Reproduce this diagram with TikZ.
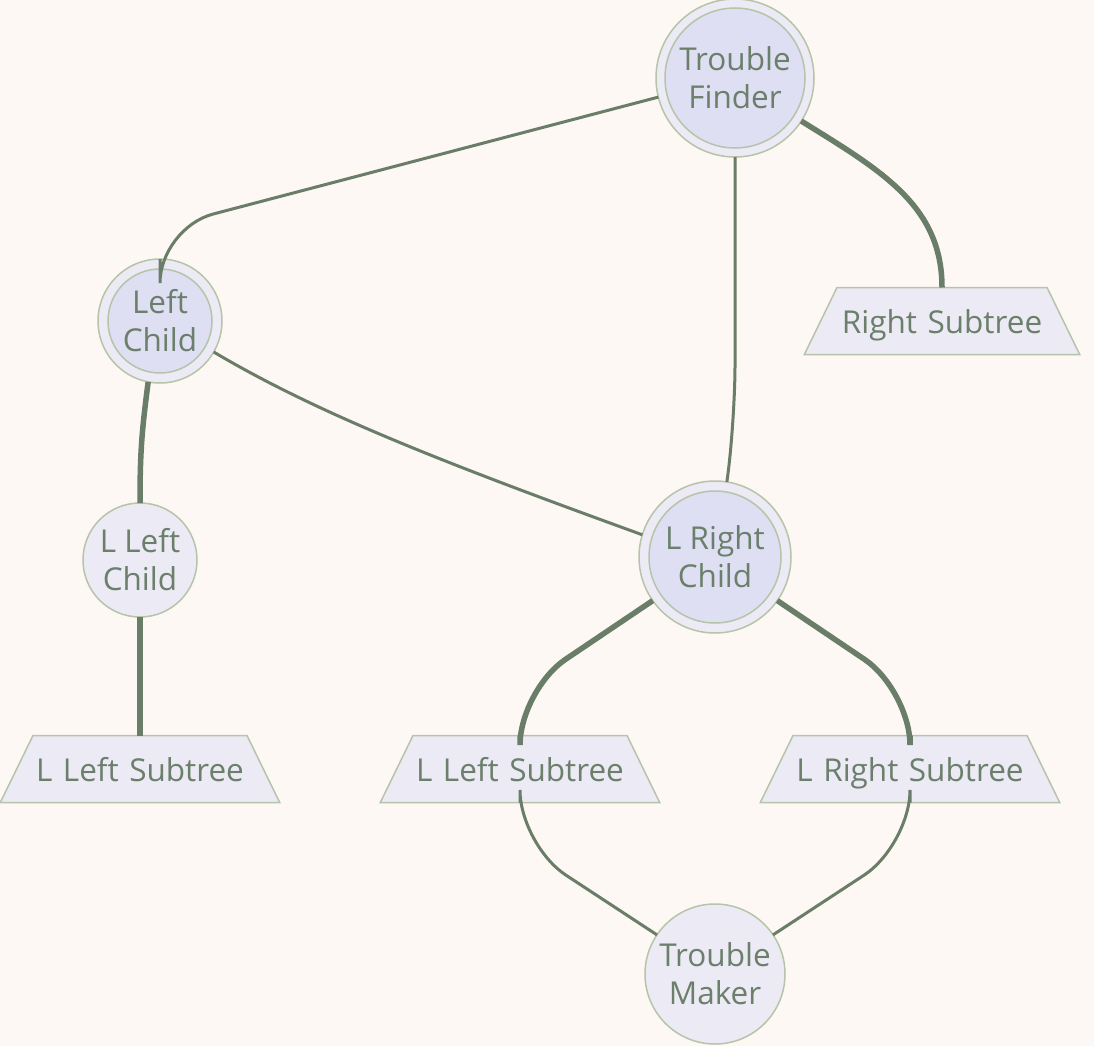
\documentclass[tikz,border=0pt]{standalone}
\usepackage{fontspec}
\setmainfont{Open Sans}
\usetikzlibrary{shapes.geometric}
\definecolor{paper}{HTML}{FDF8F3}
\definecolor{ring}{HTML}{ECEAF5}
\definecolor{core}{HTML}{DEDFF3}
\definecolor{rim}{HTML}{B6C4A9}
\definecolor{ink}{HTML}{6B7F6B}
\definecolor{wire}{HTML}{6A7D68}

\begin{document}
\begin{tikzpicture}[x=1pt, y=-1pt,
  every node/.style={draw=rim, line width=1.5pt, text=ink, align=center, inner sep=0pt, outer sep=0pt, font=\fontsize{31.5}{38}\selectfont},
  ball/.style={circle, fill=ring},
  kernel/.style={circle, fill=core},
  subtree/.style={trapezium, trapezium angle=64, fill=ring, inner xsep=0pt, inner ysep=19.5pt, text height=26pt, text depth=2pt},
  link/.style={draw=wire, line width=3pt, rounded corners=55pt},
  heavy/.style={draw=wire, line width=5.5pt, rounded corners=55pt}]
\fill[paper] (0,0) rectangle (1094,1046);
\useasboundingbox (0,0) rectangle (1094,1046);

\node[ball, minimum size=158pt] (tf) at (735,78) {};
\node[kernel, minimum size=140pt] (tfin) at (tf) {Trouble\\Finder};
\node[ball, minimum size=124pt] (lc) at (160,321) {};
\node[kernel, minimum size=104pt] (lcin) at (lc) {Left\\Child};
\node[ball, minimum size=152pt] (lrc) at (715,557) {};
\node[kernel, minimum size=132pt] (lrcin) at (lrc) {L Right\\Child};
\node[ball, minimum size=114pt] (llc) at (140,560) {L Left\\Child};
\node[ball, minimum size=140pt] (tm) at (715,974) {Trouble\\Maker};

\node[subtree, text width=210pt] (rs) at (942,321) {Right Subtree};
\node[subtree, text width=214pt] (lls) at (140,769) {L Left Subtree};
\node[subtree, text width=214pt] (lrls) at (520,769) {L Left Subtree};
\node[subtree, text width=234pt] (lrrs) at (910,769) {L Right Subtree};

\draw[link] (tf.194) -- (160,228) -- (lc.north);
\draw[link] (tf.south) -- (735,420) -- (lrc.81);
\draw[heavy] (tf.-33) .. controls (880,170) and (942,205) .. (rs.north);
\draw[heavy] (lc.-101) .. controls (142,430) and (140,450) .. (llc.north);
\draw[link] (lc.-30) .. controls (320,415) and (450,465) .. (lrc.163);
\draw[heavy] (llc.south) -- (lls.north);
\draw[heavy] (lrc.-145) -- (520,690) -- (lrls.north);
\draw[heavy] (lrc.-35) -- (910,690) -- (lrrs.north);
\draw[link] (lrls.south) -- (520,845) -- (tm.146);
\draw[link] (lrrs.south) -- (910,845) -- (tm.34);
\end{tikzpicture}
\end{document}
